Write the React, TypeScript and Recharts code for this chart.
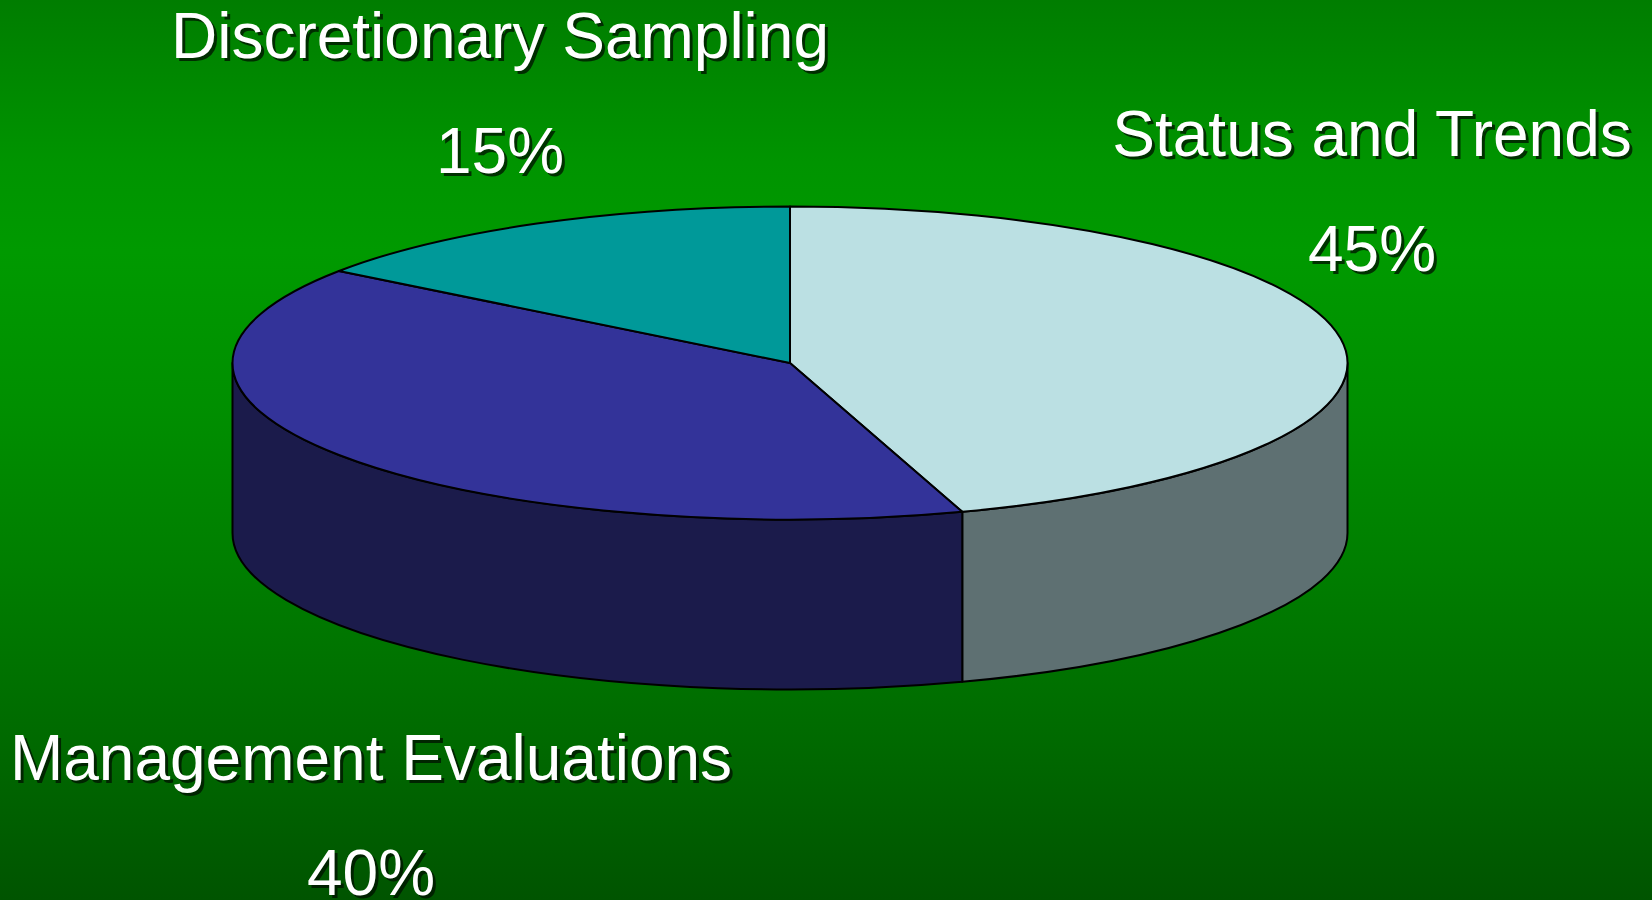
import React from "react";
import { PieChart, Pie } from "recharts";

// ---- data ----
const categories = ["Status and Trends", "Management Evaluations", "Discretionary Sampling"];
const shares = [45, 40, 15];
const percentLabels = ["45%", "40%", "15%"];
const topColors = ["#BBE0E3", "#333399", "#009999"];
const sideColors = ["#5E7072", "#1B1B4B", "#007070"];

// label anchors (centre x, first baseline y) – styling only
const labelAnchors = [
  { x: 1372, y: 156 },
  { x: 371, y: 780 },
  { x: 500, y: 58 },
];

const W = 1652;
const H = 900;
const CX = 790;
const CY = 363;
const RX = 557.5;
const RY = 156.5;
const DEPTH = 170;

const tableData = categories.map((name, i) => ({
  name,
  value: shares[i],
  fill: topColors[i],
  side: sideColors[i],
  pct: percentLabels[i],
}));

const RAD = Math.PI / 180;

function ShapeSlice(props: any) {
  const { cx, cy, outerRadius, startAngle, endAngle, payload } = props;
  const rx = outerRadius;
  const ry = outerRadius * (RY / RX);
  const fill = payload?.fill ?? props.fill;
  const side = payload?.side ?? "#333";
  const pt = (a: number, dy = 0) => [cx + rx * Math.cos(a * RAD), cy - ry * Math.sin(a * RAD) + dy];

  const lo = Math.min(startAngle, endAngle);
  const hi = Math.max(startAngle, endAngle);
  const sides: string[] = [];
  for (let k = -2; k <= 1; k++) {
    const fa = -180 + 360 * k;
    const fb = 0 + 360 * k;
    const p = Math.max(lo, fa);
    const q = Math.min(hi, fb);
    if (q - p > 0.01) {
      const [x1, y1] = pt(p);
      const [x2, y2] = pt(q);
      const [x3, y3] = pt(q, DEPTH);
      const [x4, y4] = pt(p, DEPTH);
      const large = q - p > 180 ? 1 : 0;
      sides.push(
        `M${x1},${y1} A${rx},${ry} 0 ${large} 0 ${x2},${y2} L${x3},${y3} A${rx},${ry} 0 ${large} 1 ${x4},${y4} Z`
      );
    }
  }
  const [sx, sy] = pt(startAngle);
  const [ex, ey] = pt(endAngle);
  const largeTop = Math.abs(startAngle - endAngle) > 180 ? 1 : 0;
  const sweep = startAngle > endAngle ? 1 : 0;
  const top = `M${cx},${cy} L${sx},${sy} A${rx},${ry} 0 ${largeTop} ${sweep} ${ex},${ey} Z`;
  return (
    <g>
      {sides.map((d, i) => (
        <path key={i} d={d} fill={side} stroke="#000" strokeWidth={2} strokeLinejoin="round" />
      ))}
      <path d={top} fill={fill} stroke="#000" strokeWidth={2} strokeLinejoin="round" />
    </g>
  );
}

function ShadowText({ x, y, text }: { x: number; y: number; text: string }) {
  const common = {
    textAnchor: "middle" as const,
    fontFamily: "'Liberation Sans', Arial, sans-serif",
    fontSize: 64,
  };
  return (
    <g>
      <text x={x + 3} y={y + 3} fill="#001000" fillOpacity={0.75} {...common}>
        {text}
      </text>
      <text x={x} y={y} fill="#ffffff" {...common}>
        {text}
      </text>
    </g>
  );
}

function renderLabel(props: any) {
  const i = props.index;
  const a = labelAnchors[i];
  if (!a) return null;
  return (
    <g>
      <ShadowText x={a.x} y={a.y} text={categories[i]} />
      <ShadowText x={a.x} y={a.y + 115} text={percentLabels[i]} />
    </g>
  );
}

export default function App() {
  return (
    <div
      style={{
        position: "absolute",
        left: 0,
        top: 0,
        width: W,
        height: H,
        background:
          "linear-gradient(to bottom, #007d00 0%, #009400 18%, #009a00 28%, #008f00 45%, #007f00 62%, #006a00 82%, #005400 100%)",
      }}
    >
      <PieChart width={W} height={H} margin={{ top: 0, right: 0, bottom: 0, left: 0 }}>
        <Pie
          data={tableData}
          dataKey="value"
          nameKey="name"
          cx={CX}
          cy={CY}
          innerRadius={0}
          outerRadius={RX}
          startAngle={90}
          endAngle={-270}
          paddingAngle={0}
          shape={ShapeSlice}
          label={renderLabel}
          labelLine={false}
          isAnimationActive={false}
          stroke="#000"
        />
      </PieChart>
    </div>
  );
}
